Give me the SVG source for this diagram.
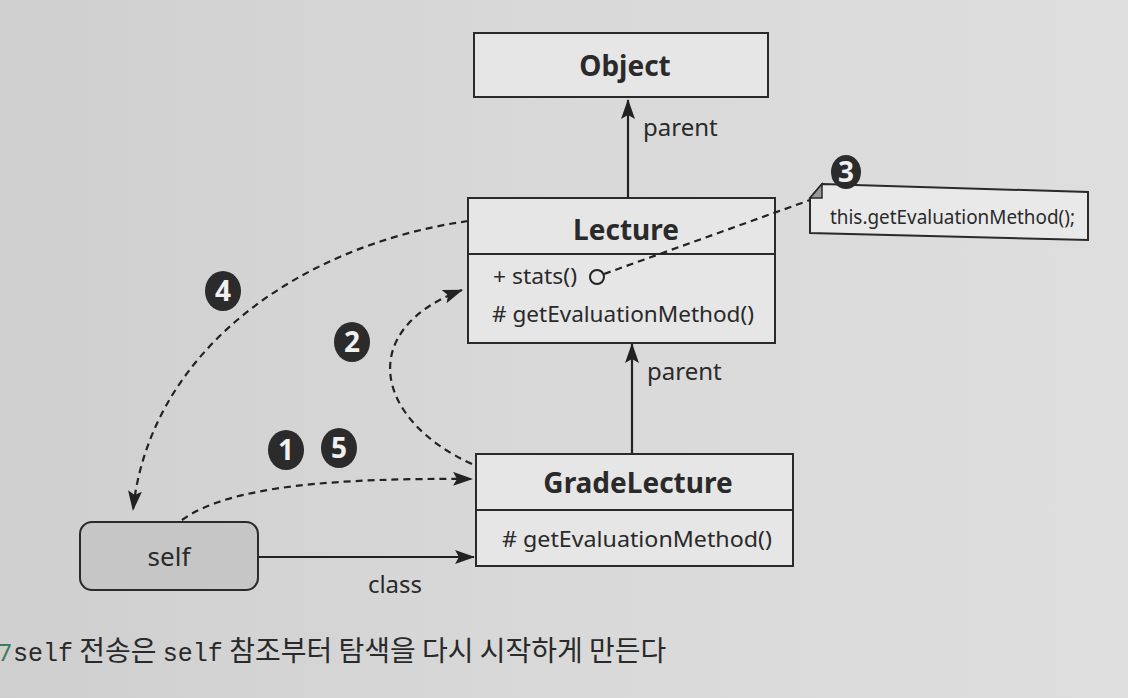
<svg xmlns="http://www.w3.org/2000/svg" width="1128" height="698" viewBox="0 0 1128 698">
<defs>
<linearGradient id="bg" x1="0" y1="0" x2="1" y2="0">
<stop offset="0" stop-color="#cfcfcf"/>
<stop offset="0.5" stop-color="#d9d9d9"/>
<stop offset="1" stop-color="#dedede"/>
</linearGradient>
<marker id="ahs" viewBox="0 0 20 14" refX="19" refY="7" markerWidth="20" markerHeight="14" markerUnits="userSpaceOnUse" orient="auto">
<path d="M0,0 L20,7 L0,14 L4,7 Z" fill="#222"/>
</marker>
</defs>
<style>
.box{fill:#e6e6e6;stroke:#2a2a2a;stroke-width:2}
.t{font-family:"Noto Sans","Liberation Sans",sans-serif;fill:#2a2a2a}
.b{font-weight:bold;font-size:28px}
.m{font-size:21px}
.lbl{font-size:24px}
.dash{fill:none;stroke:#222;stroke-width:2.2;stroke-dasharray:7 5}
.solid{fill:none;stroke:#222;stroke-width:2.2}
.num{fill:#2b2b2b}
.numt{font-family:"Noto Sans","Liberation Sans",sans-serif;font-weight:bold;font-size:28px;fill:#f0f0f0}
</style>
<rect width="1128" height="698" fill="url(#bg)"/>

<g id="connectors">
<line class="solid" x1="628" y1="198" x2="628" y2="100" marker-end="url(#ahs)"/>
<line class="solid" x1="632" y1="454" x2="632" y2="344" marker-end="url(#ahs)"/>
<line class="solid" x1="258" y1="557" x2="474" y2="557" marker-end="url(#ahs)"/>
<path class="dash" d="M468,221 C300,245 150,350 133,510" marker-end="url(#ahs)"/>
<path class="dash" d="M472,464 C375,420 355,330 462,290" marker-end="url(#ahs)"/>
<path class="dash" d="M182,520 C230,485 340,478 472,479" marker-end="url(#ahs)"/>
</g>

<g id="Object">
<rect class="box" x="474" y="33" width="294" height="64"/>
<text class="t b" x="625" y="76" text-anchor="middle">Object</text>
</g>
<text class="t lbl" x="643" y="136">parent</text>

<g id="Lecture">
<rect class="box" x="468" y="198" width="307" height="145"/>
<line class="box" x1="468" y1="254" x2="775" y2="254"/>
<text class="t b" x="626" y="240" text-anchor="middle">Lecture</text>
<text class="t m" x="493" y="284" textLength="84" lengthAdjust="spacingAndGlyphs">+ stats()</text>
<circle cx="597" cy="277" r="7" fill="none" stroke="#222" stroke-width="2"/>
<text class="t m" x="492" y="322" textLength="262" lengthAdjust="spacingAndGlyphs"># getEvaluationMethod()</text>
</g>
<text class="t lbl" x="647" y="380">parent</text>

<g id="GradeLecture">
<rect class="box" x="476" y="454" width="317" height="112"/>
<line class="box" x1="476" y1="510" x2="793" y2="510"/>
<text class="t b" x="638" y="493" text-anchor="middle">GradeLecture</text>
<text class="t m" x="502" y="547" textLength="270" lengthAdjust="spacingAndGlyphs"># getEvaluationMethod()</text>
</g>

<g id="self">
<rect x="80" y="522" width="178" height="68" rx="12" fill="#c6c6c6" stroke="#2a2a2a" stroke-width="2"/>
<text class="t" x="169" y="566" text-anchor="middle" font-size="26">self</text>
</g>
<text class="t lbl" x="395" y="593" text-anchor="middle">class</text>

<g id="note">
<path d="M822,184 L1088,192 L1088,240 L810,233 L810,198 Z" fill="#e9e9e9" stroke="#2a2a2a" stroke-width="2"/>
<path d="M822,184 L810,198 L822,198 Z" fill="#9a9a9a" stroke="#2a2a2a" stroke-width="1.5"/>
<text class="t" x="830" y="224" font-size="19" textLength="245" lengthAdjust="spacingAndGlyphs">this.getEvaluationMethod();</text>
</g>

<g id="note-link">
<path class="dash" d="M604,274 L810,200"/>
</g>

<g id="badges">
<ellipse class="num" cx="846" cy="172" rx="15" ry="17"/><text class="numt" x="846" y="182" text-anchor="middle" font-size="26">3</text>
<ellipse class="num" cx="223" cy="291" rx="18" ry="20"/><text class="numt" x="223" y="301" text-anchor="middle">4</text>
<ellipse class="num" cx="352" cy="342" rx="18" ry="20"/><text class="numt" x="352" y="352" text-anchor="middle">2</text>
<ellipse class="num" cx="286" cy="450" rx="18" ry="20"/><text class="numt" x="286" y="460" text-anchor="middle">1</text>
<ellipse class="num" cx="339" cy="448" rx="18" ry="20"/><text class="numt" x="339" y="458" text-anchor="middle">5</text>
</g>

<g id="caption">
<text x="-2" y="661" font-family="'Noto Sans','Liberation Sans',sans-serif" font-size="24" fill="#3f7a5a">7</text>
<text x="13" y="661" font-size="28" fill="#2a2a2a"><tspan font-family="'Liberation Mono',monospace" font-size="25">self</tspan><tspan font-family="'Noto Sans CJK KR',sans-serif"> 전송은 </tspan><tspan font-family="'Liberation Mono',monospace" font-size="25">self</tspan><tspan font-family="'Noto Sans CJK KR',sans-serif"> 참조부터 탐색을 다시 시작하게 만든다</tspan></text>
</g>
</svg>
